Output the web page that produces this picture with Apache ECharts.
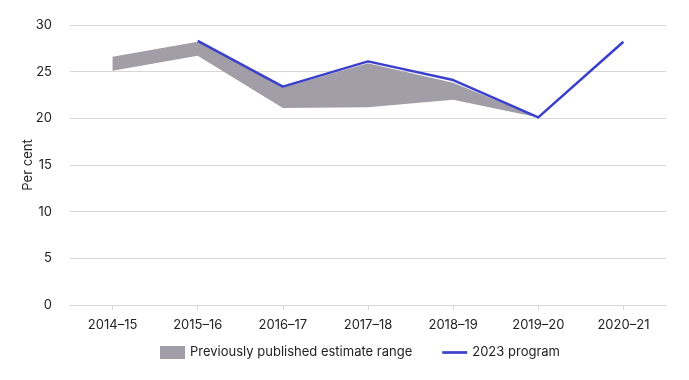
<!DOCTYPE html>
<html><head><meta charset="utf-8">
<script src="https://cdn.jsdelivr.net/npm/echarts@6/dist/echarts.min.js"></script>
<style>html,body{margin:0;padding:0;background:#fff}#c{width:689px;height:380px}</style>
</head><body><div id="c"></div>
<script>
var categories = ['2014–15','2015–16','2016–17','2017–18','2018–19','2019–20','2020–21'];
var rangeLow  = [25.1, 26.7, 21.1, 21.2, 22.0, 20.1, null];
var rangeHigh = [26.6, 28.2, 23.3, 25.9, 23.8, 20.1, null];
var program2023 = [null, 28.3, 23.4, 26.1, 24.1, 20.1, 28.2];
var yTicks = [0, 5, 10, 15, 20, 25, 30];

var rangeDiff = rangeLow.map(function(v, i){ return (v == null || rangeHigh[i] == null) ? null : +(rangeHigh[i] - v).toFixed(2); });
var FONT = 'Inter, "Noto Sans", sans-serif';
var chart = echarts.init(document.getElementById('c'));
chart.setOption({
  animation: false,
  textStyle: {fontFamily: FONT},
  grid: {left: 70, right: 23, top: 25, bottom: 75},
  legend: {
    bottom: 16, left: 155, itemGap: 30,
    textStyle: {fontFamily: FONT, fontSize: 13, color: '#222'},
    data: [
      {name: 'Previously published estimate range', icon: 'rect', itemStyle: {color: '#a29ea8'}},
      {name: '2023 program', icon: 'path://M0,0 L28,0 L28,3 L0,3 Z', itemStyle: {color: '#3a3fcc'}}
    ],
    itemWidth: 25, itemHeight: 13
  },
  xAxis: {
    type: 'category', data: categories, boundaryGap: true,
    axisLine: {lineStyle: {color: '#d6d6d6'}},
    axisTick: {show: true, alignWithLabel: true, length: 5, lineStyle: {color: '#d6d6d6'}},
    axisLabel: {color: '#222', fontSize: 13, margin: 14, fontFamily: FONT}
  },
  yAxis: {
    type: 'value', min: yTicks[0], max: yTicks[yTicks.length-1], interval: 5,
    name: 'Per cent', nameLocation: 'middle', nameGap: 35, nameRotate: 90, nameMoveOverlap: false,
    nameTextStyle: {color: '#222', fontSize: 13, fontFamily: FONT},
    axisLine: {show: false}, axisTick: {show: false},
    axisLabel: {color: '#222', fontSize: 13, margin: 18, fontFamily: FONT},
    splitLine: {lineStyle: {color: '#d6d6d6', width: 1}}
  },
  series: [
    {name: 'low', type: 'line', stack: 'band', data: rangeLow, symbol: 'none',
     lineStyle: {opacity: 0}, areaStyle: {opacity: 0}, silent: true},
    {name: 'Previously published estimate range', type: 'line', stack: 'band', data: rangeDiff, symbol: 'none',
     lineStyle: {opacity: 0}, itemStyle: {color: '#a29ea8'}, areaStyle: {color: '#a29ea8', opacity: 1}},
    {name: '2023 program', type: 'line', data: program2023, symbol: 'none',
     lineStyle: {color: '#3a3fcc', width: 2.5}, itemStyle: {color: '#3a3fcc'}}
  ]
});
</script></body></html>
